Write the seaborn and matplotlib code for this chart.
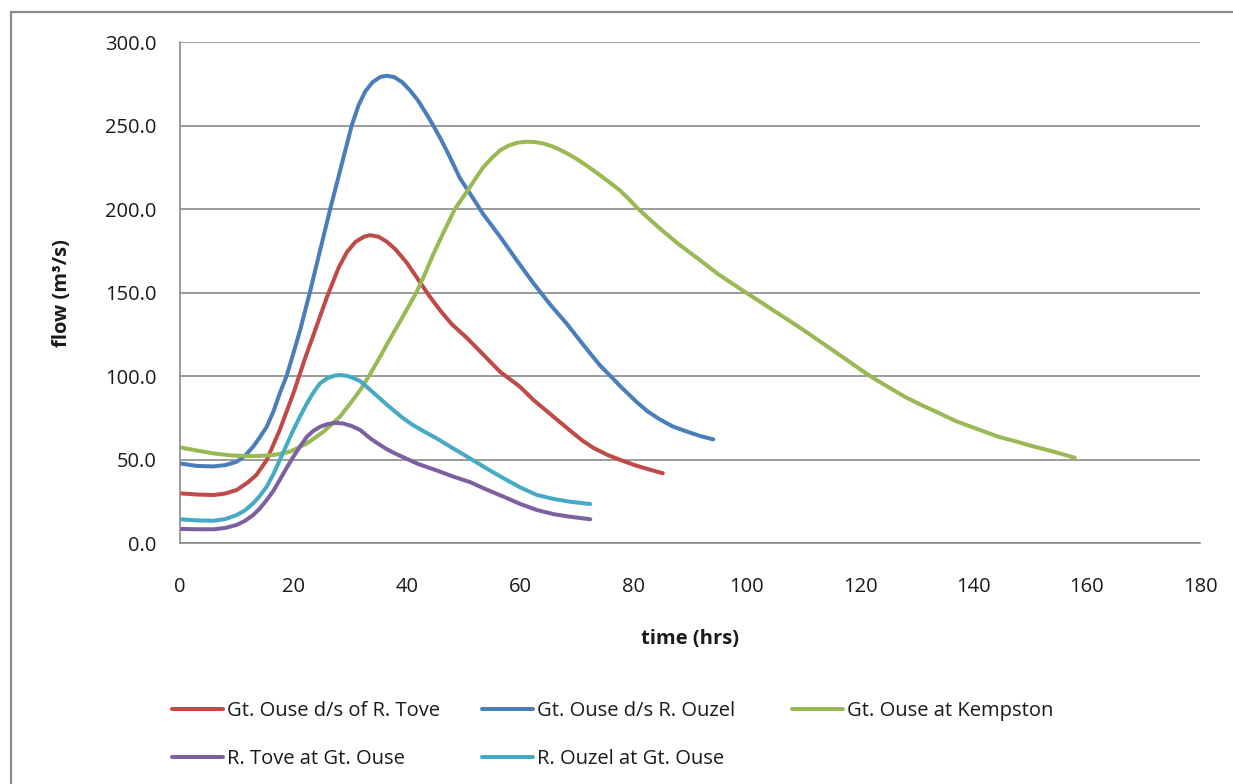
import matplotlib
matplotlib.use("Agg")
import matplotlib.pyplot as plt
from matplotlib.patches import Rectangle
from matplotlib.ticker import FormatStrFormatter, MultipleLocator
import pandas as pd
import seaborn as sns

# Flood hydrographs along the Great Ouse: time (hrs) vs flow (m3/s)
tove_ds_time = [0, 3, 6, 8, 10, 12, 13.5, 15.3, 17.6, 20, 22, 24, 26, 28, 29.5, 31, 32.5, 33.5,
                35, 36.5, 38, 40, 42, 44, 46, 48, 50.6, 53.5, 56.5, 60, 62.4, 66, 69, 71,
                73, 75.5, 78, 80.5, 83, 85.2]
tove_ds_flow = [29.9, 29.2, 28.9, 29.8, 31.9, 36.5, 41.0, 49.8, 67.8, 89.7, 110, 129, 148, 165, 174.5, 180.5, 183.5, 184.4,
                183.5, 180.5, 176, 168, 158, 148, 139, 131, 123, 113, 102.6, 93.7, 85.7, 75.5, 67.0, 61.5,
                57.0, 52.8, 49.5, 46.5, 44.0, 41.9]

ouzel_ds_time = [0, 3, 5.9, 8, 10, 11.5, 12.9, 14, 15.3, 16.5, 17.6, 18.8, 20, 21.2, 22.9, 24.7,
                 26.5, 28.4, 30.3, 31.5, 32.7, 34, 35.3, 36.5, 37.8, 39.2, 40.6, 42, 43.3, 44.7,
                 46, 47.5, 49.4, 50.6, 52, 53.5, 56.5, 59.5, 62.4, 65.3, 68.2, 71, 74.1, 76,
                 78, 80.6, 82.5, 84.5, 86.9, 89.5, 92, 94.1]
ouzel_ds_flow = [47.8, 46.3, 46.0, 46.8, 48.8, 52.5, 57.8, 63.0, 69.7, 79.0, 89.7, 100, 113.6, 127.6, 150, 175,
                 200, 225, 250, 262, 270.5, 276, 279, 279.8, 279, 276, 271, 265, 258, 250,
                 242, 232, 218.5, 212.3, 205, 197, 183.4, 169, 155.5, 143, 131.6, 119.5, 106.5, 100,
                 93.0, 84.5, 79.0, 74.5, 70.0, 66.8, 64.0, 62.2]

kempston_time = [0, 3, 5.9, 9, 11.8, 14, 16.5, 19.4, 22.4, 25.3, 28.2, 30, 31.8, 33.5, 35.3, 37,
                 38.8, 40.2, 41.7, 43.2, 44.7, 46.5, 48.5, 50.6, 52, 53.5, 55, 56.5, 58, 59.5,
                 61, 62.5, 64, 65.5, 67, 68.5, 70, 72, 74.1, 76, 77.6, 79.2, 80.9, 83, 85,
                 88, 91, 95, 99.9, 104, 109.6, 115, 121.8, 125, 128, 131, 134.1, 137, 139,
                 142, 144.4, 147.5, 150, 154, 157.9]
kempston_flow = [57.4, 55.5, 53.8, 52.6, 52.2, 52.3, 52.8, 54.8, 59.8, 66.7, 75.7, 83.5, 91.7, 101, 111.6, 122,
                 132.5, 141, 150, 161, 173, 186, 200, 210.3, 217.5, 225, 230.5, 235.2, 238, 239.7,
                 240.3, 240.2, 239.3, 237.8, 235.6, 233, 230, 225.5, 220.3, 215.5, 211.3, 206, 200, 193.5, 187.5,
                 179, 171.4, 161, 150, 141, 128.6, 116, 100, 93.5, 87.5, 82.5, 77.7, 73.0, 70.5,
                 66.8, 63.8, 61.0, 58.5, 55.0, 51.2]

tove_time = [0, 3, 6, 8, 10, 11.5, 12.9, 14, 15.3, 16.5, 17.6, 18.8, 20, 21.2, 22.4, 23.5,
             24.7, 26, 27.4, 28.8, 30.2, 31.8, 33.5, 35, 36.5, 38, 39.4, 42, 45.3, 48,
             51.2, 54, 57.1, 60, 63, 66, 68.8, 72.4]
tove_flow = [8.6, 8.4, 8.4, 9.2, 11.0, 13.5, 16.9, 20.5, 25.9, 31.5, 37.9, 45.0, 51.8, 58.0, 63.8, 67.2,
             69.7, 71.3, 72.1, 71.7, 70.3, 67.8, 63.0, 59.5, 56.3, 53.7, 51.5, 47.5, 43.6, 40.2,
             36.6, 32.3, 27.9, 23.6, 19.9, 17.4, 15.9, 14.4]

ouzel_time = [0, 3, 5.9, 8, 10, 11.5, 12.9, 14, 15.3, 16.5, 17.6, 18.8, 20, 21.2, 22.4, 23.5,
              24.7, 26, 27.2, 28.2, 29.5, 30.8, 31.8, 33.5, 35, 36.5, 38, 39.4, 41, 42.5,
              44, 45.3, 48, 51.2, 54, 57.1, 60, 63, 66, 68.8, 72.4]
ouzel_flow = [14.4, 13.7, 13.5, 14.5, 16.9, 19.8, 23.9, 28.0, 33.9, 41.5, 49.8, 58.8, 67.8, 76.0, 83.7, 90.0,
              95.7, 98.8, 100.3, 100.7, 100.2, 98.6, 97.0, 92.0, 87.5, 83.0, 78.7, 74.8, 71.0, 68.0,
              65.2, 62.8, 57.2, 50.8, 45.0, 38.9, 33.5, 28.9, 26.5, 24.9, 23.5]

series_names = ["Gt. Ouse d/s of R. Tove", "Gt. Ouse d/s R. Ouzel", "Gt. Ouse at Kempston",
                "R. Tove at Gt. Ouse", "R. Ouzel at Gt. Ouse"]
series_colors = ["#BE4B48", "#4A7EBB", "#98B954", "#7D60A0", "#46AAC5"]

frames = []
for name, t, q in zip(series_names,
                      [tove_ds_time, ouzel_ds_time, kempston_time, tove_time, ouzel_time],
                      [tove_ds_flow, ouzel_ds_flow, kempston_flow, tove_flow, ouzel_flow]):
    frames.append(pd.DataFrame({"time": t, "flow": q, "series": name}))
df = pd.concat(frames, ignore_index=True)

sns.set_style("white")
plt.rcParams["font.family"] = ["Open Sans", "DejaVu Sans"]

W, H = 1233, 784
FS = 14.5
ink = "#1a1a1a"
grey = "#8a8a8a"

fig = plt.figure(figsize=(W / 100, H / 100), dpi=100)
ax = fig.add_axes([180 / W, 1 - 543.3 / H, (1200 - 180) / W, (543.3 - 42) / H])

sns.lineplot(data=df, x="time", y="flow", hue="series", hue_order=series_names,
             palette=dict(zip(series_names, series_colors)), estimator=None, sort=False,
             linewidth=2.9, solid_capstyle="round", solid_joinstyle="round", ax=ax)

handles, labels = ax.get_legend_handles_labels()
ax.get_legend().remove()
lookup = dict(zip(labels, handles))

ax.set_xlim(0, 180)
ax.set_ylim(0, 300)
ax.xaxis.set_major_locator(MultipleLocator(20))
ax.yaxis.set_major_locator(MultipleLocator(50))
ax.yaxis.set_major_formatter(FormatStrFormatter("%.1f"))
ax.grid(axis="y", color=grey, linewidth=1.2)
ax.grid(axis="x", visible=False)
ax.set_axisbelow(True)
for side in ("top", "right"):
    ax.spines[side].set_visible(False)
for side in ("left", "bottom"):
    ax.spines[side].set_color(grey)
    ax.spines[side].set_linewidth(1.2)
ax.tick_params(axis="both", direction="out", length=5, width=1.2, color=grey,
               labelsize=FS, labelcolor=ink)
ax.tick_params(axis="y", pad=12)
ax.tick_params(axis="x", pad=19)
ax.set_xlabel("time (hrs)", fontsize=FS, fontweight="bold", labelpad=23, color=ink)
ax.set_ylabel("flow (m³/s)", fontsize=FS, fontweight="bold", labelpad=24, color=ink)

# legend laid out in evenly spaced columns below the plot
columns = [(172, ["Gt. Ouse d/s of R. Tove", "R. Tove at Gt. Ouse"]),
           (482, ["Gt. Ouse d/s R. Ouzel", "R. Ouzel at Gt. Ouse"]),
           (792, ["Gt. Ouse at Kempston"])]
for x0, names in columns:
    leg = fig.legend([lookup[n] for n in names], names, loc="upper left",
                     bbox_to_anchor=(x0 / W, 1 - 701 / H), frameon=False,
                     fontsize=FS, handlelength=2.55, handletextpad=0.2,
                     labelspacing=1.4, borderpad=0, borderaxespad=0)
    for t in leg.get_texts():
        t.set_color(ink)

# chart-area border
fig.patches.append(Rectangle((11 / W, -0.2), 2, 1 - 12 / H + 0.2, transform=fig.transFigure,
                             fill=False, edgecolor=grey, linewidth=1.6))

fig.savefig("out.png", dpi=100)
